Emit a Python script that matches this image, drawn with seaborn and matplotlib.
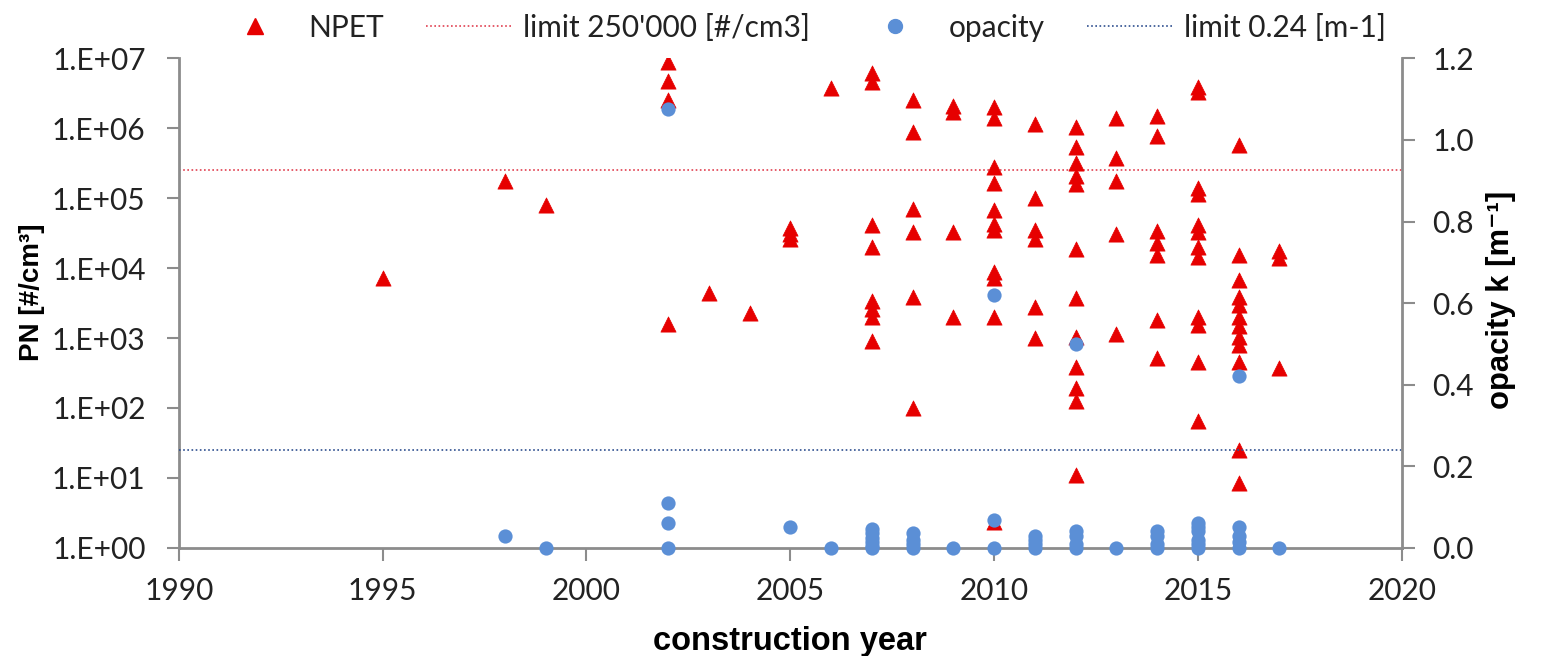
import numpy as np
import pandas as pd
import matplotlib
matplotlib.use("Agg")
import matplotlib.pyplot as plt
from matplotlib.lines import Line2D
from matplotlib.ticker import FixedLocator, FixedFormatter, FormatStrFormatter
import seaborn as sns

# Particle number (NPET) measurements per vehicle construction year
npet_year = (
    [1995, 1998, 1999]
    + [2002] * 4 + [2003, 2004] + [2005] * 3 + [2006]
    + [2007] * 8 + [2008] * 6 + [2009] * 4 + [2010] * 11
    + [2011] * 6 + [2012] * 12 + [2013] * 5 + [2014] * 7
    + [2015] * 12 + [2016] * 12 + [2017] * 3
)
npet_value = [
    7.2e3, 1.75e5, 8.0e4,
    9.0e6, 4.7e6, 2.5e6, 1.6e3,
    4.4e3, 2.3e3,
    3.8e4, 3.1e4, 2.6e4,
    3.8e6,
    6.2e6, 4.6e6, 4.2e4, 2.0e4, 3.4e3, 2.6e3, 2.0e3, 9.0e2,
    2.5e6, 8.9e5, 7.0e4, 3.3e4, 3.9e3, 1.0e2,
    2.1e6, 1.7e6, 3.3e4, 2.0e3,
    2.0e6, 1.4e6, 2.8e5, 1.65e5, 6.8e4, 4.3e4, 3.5e4, 8.8e3, 7.2e3, 2.0e3, 2.3,
    1.15e6, 1.0e5, 3.5e4, 2.6e4, 2.8e3, 9.9e2,
    1.05e6, 5.4e5, 3.2e5, 2.1e5, 1.6e5, 1.9e4, 3.7e3, 1.05e3, 3.9e2, 1.9e2, 1.25e2, 11,
    1.4e6, 3.8e5, 1.75e5, 3.1e4, 1.15e3,
    1.5e6, 7.8e5, 3.4e4, 2.3e4, 1.55e4, 1.8e3, 5.1e2,
    3.9e6, 3.3e6, 1.4e5, 1.15e5, 4.2e4, 3.3e4, 2.0e4, 1.45e4, 2.0e3, 1.55e3, 4.6e2, 66,
    5.7e5, 1.55e4, 6.8e3, 3.9e3, 3.0e3, 2.0e3, 1.5e3, 1.05e3, 8.0e2, 4.6e2, 25, 8.5,
    1.75e4, 1.38e4, 3.7e2,
]

# Opacity k [m-1] measurements per construction year
opacity_year = (
    [1998, 1999] + [2002] * 4 + [2005, 2006] + [2007] * 6 + [2008] * 4
    + [2009] + [2010] * 3 + [2011] * 4 + [2012] * 5 + [2013]
    + [2014] * 4 + [2015] * 6 + [2016] * 5 + [2017]
)
opacity_value = [
    0.03, 0.0,
    1.075, 0.11, 0.06, 0.0,
    0.05, 0.0,
    0.045, 0.035, 0.025, 0.015, 0.005, 0.0,
    0.035, 0.02, 0.01, 0.0,
    0.0,
    0.62, 0.068, 0.0,
    0.03, 0.02, 0.01, 0.0,
    0.50, 0.04, 0.03, 0.01, 0.0,
    0.0,
    0.04, 0.03, 0.01, 0.0,
    0.06, 0.05, 0.04, 0.02, 0.01, 0.0,
    0.42, 0.05, 0.03, 0.015, 0.0,
    0.0,
]

pn_limit = 250000
opacity_limit = 0.24
year_ticks = [1990, 1995, 2000, 2005, 2010, 2015, 2020]
pn_ticks = [1e0, 1e1, 1e2, 1e3, 1e4, 1e5, 1e6, 1e7]
pn_tick_labels = ["1.E+00", "1.E+01", "1.E+02", "1.E+03", "1.E+04", "1.E+05", "1.E+06", "1.E+07"]
opacity_ticks = [0.0, 0.2, 0.4, 0.6, 0.8, 1.0, 1.2]
legend_labels = ["NPET", "limit 250'000 [#/cm3]", "opacity", "limit 0.24 [m-1]"]

npet_df = pd.DataFrame({"year": npet_year, "PN": npet_value})
opacity_df = pd.DataFrame({"year": opacity_year, "k": opacity_value})

sns.set_theme(style="white")
plt.rcParams["font.family"] = ["Lato", "DejaVu Sans"]

RED = "#e60000"
BLUE = "#5b8fd6"
RED_LINE = "#e04050"
BLUE_LINE = "#2f4f8f"
AXIS_GREY = "#8c8c8c"
TEXT = "#222222"
FS = 21.5
LABEL_FONT = ["Liberation Sans", "DejaVu Sans"]

fig = plt.figure(figsize=(15.42, 6.56), dpi=100)
ax = fig.add_axes([0.116, 0.165, 0.793, 0.746])
ax2 = ax.twinx()

sns.scatterplot(data=npet_df, x="year", y="PN", ax=ax, marker="^", s=120,
                color=RED, edgecolor=RED, linewidth=0.5, zorder=3, legend=False)
ax.axhline(pn_limit, color=RED_LINE, linestyle=(0, (1, 1.5)), linewidth=1.2, zorder=2)

sns.scatterplot(data=opacity_df, x="year", y="k", ax=ax2, marker="o", s=105,
                color=BLUE, edgecolor=BLUE, linewidth=0, zorder=3, legend=False,
                clip_on=False)
ax2.axhline(opacity_limit, color=BLUE_LINE, linestyle=(0, (1, 1.5)), linewidth=1.2, zorder=2)

ax.set_yscale("log")
ax.set_ylim(1, 1e7)
ax.set_xlim(1990, 2020)
ax2.set_ylim(0, 1.2)

ax.xaxis.set_major_locator(FixedLocator(year_ticks))
ax.yaxis.set_major_locator(FixedLocator(pn_ticks))
ax.yaxis.set_major_formatter(FixedFormatter(pn_tick_labels))
ax.yaxis.set_minor_locator(FixedLocator([]))
ax2.yaxis.set_major_locator(FixedLocator(opacity_ticks))
ax2.yaxis.set_major_formatter(FormatStrFormatter("%.1f"))

for a in (ax, ax2):
    a.spines["top"].set_visible(False)
    for side in ("left", "right", "bottom"):
        a.spines[side].set_color(AXIS_GREY)
        a.spines[side].set_linewidth(2)
    a.tick_params(axis="both", which="major", direction="out", length=9, width=1.5,
                  color=AXIS_GREY, labelsize=FS, labelcolor=TEXT)
    a.grid(False)
ax.tick_params(axis="y", left=True, right=False, pad=15)
ax.tick_params(axis="x", bottom=True, pad=12)
ax2.tick_params(axis="y", right=True, left=False, pad=13)
ax2.spines["left"].set_visible(False)
ax2.spines["bottom"].set_visible(False)
ax.spines["right"].set_visible(False)

ax.set_xlabel("construction year", fontsize=23.5, fontweight="bold", color="black",
              family=LABEL_FONT, labelpad=15)
ax.set_ylabel("PN [#/cm³]", fontsize=20, fontweight="bold", color="black",
              family=LABEL_FONT, labelpad=5)
ax2.set_ylabel("opacity k [m⁻¹]", fontsize=22.3, fontweight="bold", color="black",
               family=LABEL_FONT, labelpad=9)
ax.yaxis.label.set_y(0.523)
ax2.yaxis.label.set_y(0.506)

handles = [
    Line2D([], [], linestyle="none", marker="^", markersize=11, color=RED),
    Line2D([], [], color=RED_LINE, linestyle=(0, (1, 1.5)), linewidth=1.2),
    Line2D([], [], linestyle="none", marker="o", markersize=10, color=BLUE),
    Line2D([], [], color=BLUE_LINE, linestyle=(0, (1, 1.5)), linewidth=1.2),
]
fig.legend(handles, legend_labels, loc="upper center", bbox_to_anchor=(0.518, 1.02), ncol=4,
           frameon=False, fontsize=FS, handlelength=2.9, columnspacing=1.4,
           handletextpad=0.35, labelcolor=TEXT)

fig.savefig("out.png", dpi=100, facecolor="white")
